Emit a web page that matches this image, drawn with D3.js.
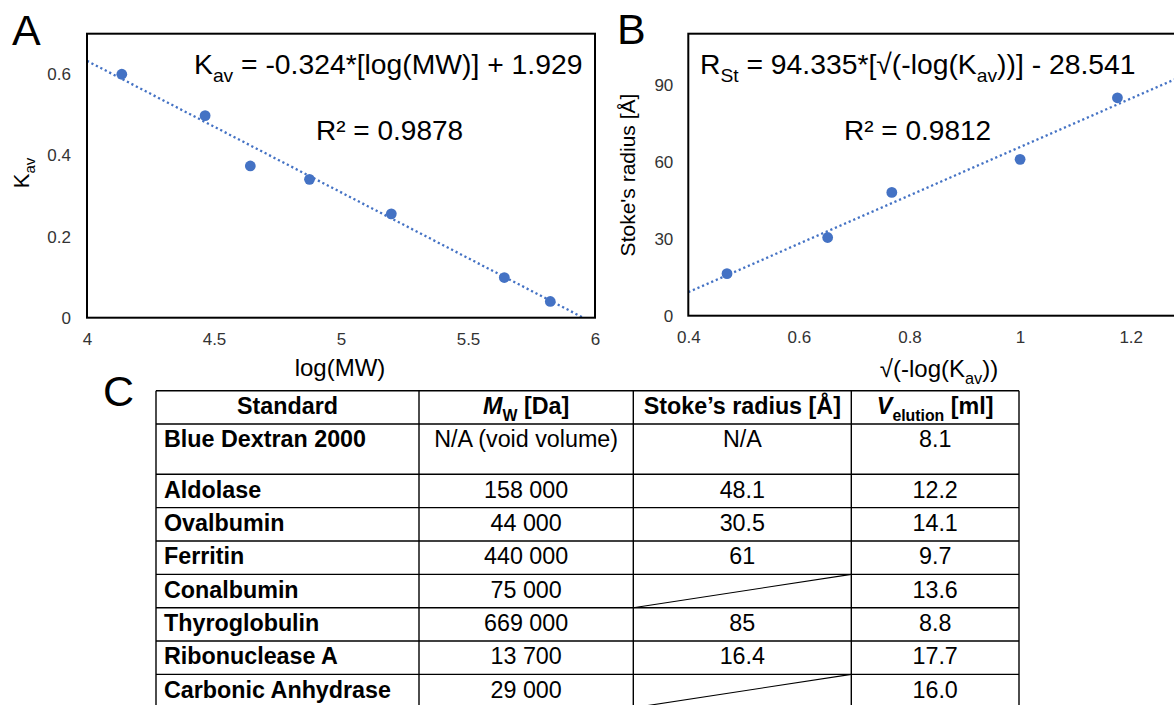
<!DOCTYPE html>
<html>
<head>
<meta charset="utf-8">
<script src="https://cdn.jsdelivr.net/npm/d3@7"></script>
<style>
  html, body { margin: 0; padding: 0; background: #fff; }
  svg { display: block; font-family: "Liberation Sans", Arial, sans-serif; }
</style>
</head>
<body>
<svg id="chart" width="1174" height="705"></svg>
<script>
// ---------- Data ----------
// Panel A: log(MW) vs Kav
const logMW = [4.137, 4.465, 4.643, 4.876, 5.198, 5.643, 5.824];
const kav = [0.600, 0.498, 0.374, 0.341, 0.256, 0.099, 0.040];
const fitA = [-0.324, 1.929]; // slope, intercept
const ticksAx = [4, 4.5, 5, 5.5, 6];
const ticksAy = [0, 0.2, 0.4, 0.6];

// Panel B: sqrt(-log(Kav)) vs Stoke's radius
const sqrtNegLogKav = [0.470, 0.652, 0.768, 1.000, 1.176];
const stokesRadius = [16.4, 30.5, 48.1, 61, 85];
const fitB = [94.335, -28.541];
const ticksBx = [0.4, 0.6, 0.8, 1, 1.2];
const ticksBy = [0, 30, 60, 90];

// Panel C: table
const standards = ["Blue Dextran 2000", "Aldolase", "Ovalbumin", "Ferritin", "Conalbumin", "Thyroglobulin", "Ribonuclease A", "Carbonic Anhydrase"];
const mwDa = ["N/A (void volume)", "158 000", "44 000", "440 000", "75 000", "669 000", "13 700", "29 000"];
const stokesCol = ["N/A", "48.1", "30.5", "61", "", "85", "16.4", ""];
const vElution = ["8.1", "12.2", "14.1", "9.7", "13.6", "8.8", "17.7", "16.0"];

// ---------- Drawing ----------
const svg = d3.select("#chart");
const BLUE = "#4472C4";
const TICK = "#333333";

function fmt(v) { return String(+v.toFixed(2)); }

function panel(cfg) {
  const g = svg.append("g");
  const x = d3.scaleLinear().domain(cfg.xd).range(cfg.xr);
  const y = d3.scaleLinear().domain(cfg.yd).range(cfg.yr);
  const clipId = "clip" + cfg.id;
  svg.append("clipPath").attr("id", clipId).append("rect")
    .attr("x", cfg.xr[0]).attr("y", cfg.yr[1])
    .attr("width", cfg.xr[1] - cfg.xr[0]).attr("height", cfg.yr[0] - cfg.yr[1]);

  // trendline
  const fx0 = cfg.xd[0];
  let fx1 = cfg.xd[1];
  const zeroX = -cfg.fit[1] / cfg.fit[0];
  if (zeroX > fx0 && zeroX < fx1) fx1 = zeroX;
  const fitPts = [fx0, fx1].map(v => [v, cfg.fit[0] * v + cfg.fit[1]]);
  g.append("path")
    .attr("clip-path", `url(#${clipId})`)
    .attr("d", d3.line().x(d => x(d[0])).y(d => y(d[1]))(fitPts))
    .attr("fill", "none").attr("stroke", BLUE).attr("stroke-width", 2.3)
    .attr("stroke-dasharray", "2.2,2.8");

  // points
  g.selectAll("circle.pt").data(cfg.xs.map((v, i) => [v, cfg.ys[i]]))
    .join("circle").attr("class", "pt")
    .attr("cx", d => x(d[0])).attr("cy", d => y(d[1])).attr("r", 5.4)
    .attr("fill", BLUE);

  // frame
  g.append("rect")
    .attr("x", cfg.xr[0]).attr("y", cfg.yr[1])
    .attr("width", cfg.xr[1] - cfg.xr[0]).attr("height", cfg.yr[0] - cfg.yr[1])
    .attr("fill", "none").attr("stroke", "#000").attr("stroke-width", 2);

  // axes (labels only)
  const ax = d3.axisBottom(x).tickValues(cfg.tx).tickFormat(fmt).tickSize(0).tickPadding(15);
  const gx = g.append("g").attr("transform", `translate(0,${cfg.yr[0]})`).call(ax);
  gx.select(".domain").remove();
  gx.selectAll("text").attr("font-size", 17).attr("fill", TICK)
    .attr("font-family", "Liberation Sans, Arial, sans-serif");

  const ay = d3.axisLeft(y).tickValues(cfg.ty).tickFormat(fmt).tickSize(0).tickPadding(cfg.ypad);
  const gy = g.append("g").attr("transform", `translate(${cfg.xr[0]},0)`).call(ay);
  gy.select(".domain").remove();
  gy.selectAll("text").attr("font-size", 17).attr("fill", TICK)
    .attr("font-family", "Liberation Sans, Arial, sans-serif");
  return { x, y, g };
}

// Panel A
panel({ id: "A", xd: [4, 6], xr: [87, 595], yd: [0, 0.7], yr: [317.7, 33.7],
  xs: logMW, ys: kav, fit: fitA, tx: ticksAx, ty: ticksAy, ypad: 16 });
// Panel B
panel({ id: "B", xd: [0.4, 1.4], xr: [688.3, 1241.3], yd: [0, 110], yr: [315.7, 33.7],
  xs: sqrtNegLogKav, ys: stokesRadius, fit: fitB, tx: ticksBx, ty: ticksBy, ypad: 15 });

// text helper with runs: [text, style] ; style: "sub", "it"
function richText(parent, x, y, size, runs, attrs) {
  const t = parent.append("text").attr("x", x).attr("y", y).attr("font-size", size).attr("fill", "#000");
  if (attrs) Object.entries(attrs).forEach(([k, v]) => t.attr(k, v));
  let inSub = false;
  runs.forEach(r => {
    const [txt, st] = typeof r === "string" ? [r, ""] : r;
    const ts = t.append("tspan").text(txt);
    const isSub = st && st.includes("sub");
    if (isSub && !inSub) ts.attr("dy", size * 0.28);
    if (!isSub && inSub) ts.attr("dy", -size * 0.28);
    if (isSub) ts.attr("font-size", size * 0.68);
    if (st && st.includes("it")) ts.attr("font-style", "italic");
    inSub = isSub;
  });
  return t;
}

// Panel letters
svg.append("text").attr("x", 12).attr("y", 45).attr("font-size", 43).text("A");
svg.append("text").attr("x", 617).attr("y", 44).attr("font-size", 43).text("B");
svg.append("text").attr("x", 103).attr("y", 406).attr("font-size", 43).text("C");

// Panel A annotations
richText(svg, 194, 74, 28.3, ["K", ["av", "sub"], " = -0.324*[log(MW)] + 1.929"]);
richText(svg, 316, 140, 28, ["R² = 0.9878"]);
richText(svg, 340, 376, 24, ["log(MW)"], { "text-anchor": "middle" });
richText(svg, 0, 0, 22, ["K", ["av", "sub"]], { "text-anchor": "middle", transform: "translate(29,173) rotate(-90)" });

// Panel B annotations
richText(svg, 700, 74, 28.3, ["R", ["St", "sub"], " = 94.335*[√(-log(K", ["av", "sub"], "))] - 28.541"]);
richText(svg, 844, 140, 28, ["R² = 0.9812"]);
richText(svg, 939, 377, 24, ["√(-log(K", ["av", "sub"], "))"], { "text-anchor": "middle" });
richText(svg, 0, 0, 21, ["Stoke's radius [Å]"], { "text-anchor": "middle", transform: "translate(635,175) rotate(-90)" });

// ---------- Table ----------
const colX = [156, 419, 633.3, 851.3, 1019];
const rowH = [33.3, 50.3].concat(d3.range(standards.length - 1).map(() => 33.35));
const rowY = [390.7];
rowH.forEach((h, i) => rowY.push(rowY[i] + h));
const tg = svg.append("g");
const FS = 23.3;

// header
const hy = rowY[0] + 23.6;
const hdrs = [
  [["Standard"]],
  [["M", "it"], ["W", "sub"], " [Da]"],
  [["Stoke’s radius [Å]"]],
  [["V", "it"], ["elution", "sub"], " [ml]"]
];
hdrs.forEach((runs, c) => {
  richText(tg, (colX[c] + colX[c + 1]) / 2, hy, FS, runs, { "text-anchor": "middle", "font-weight": "bold" });
});

standards.forEach((s, i) => {
  const top = rowY[i + 1];
  const by = top + 23.3;
  richText(tg, colX[0] + 8, by, FS, [s], { "font-weight": "bold" });
  [mwDa[i], stokesCol[i], vElution[i]].forEach((v, j) => {
    if (v !== "") richText(tg, (colX[j + 1] + colX[j + 2]) / 2, by, FS, [v], { "text-anchor": "middle" });
  });
  if (stokesCol[i] === "") {
    tg.append("line").attr("x1", colX[2]).attr("y1", top + rowH[i + 1])
      .attr("x2", colX[3]).attr("y2", top)
      .attr("stroke", "#000").attr("stroke-width", 1.1);
  }
});

// grid lines
rowY.forEach(yv => tg.append("line").attr("x1", colX[0]).attr("x2", colX[4])
  .attr("y1", yv).attr("y2", yv).attr("stroke", "#000").attr("stroke-width", 1.4));
colX.forEach(xv => tg.append("line").attr("x1", xv).attr("x2", xv)
  .attr("y1", rowY[0]).attr("y2", rowY[rowY.length - 1]).attr("stroke", "#000").attr("stroke-width", 1.4));
</script>
</body>
</html>
